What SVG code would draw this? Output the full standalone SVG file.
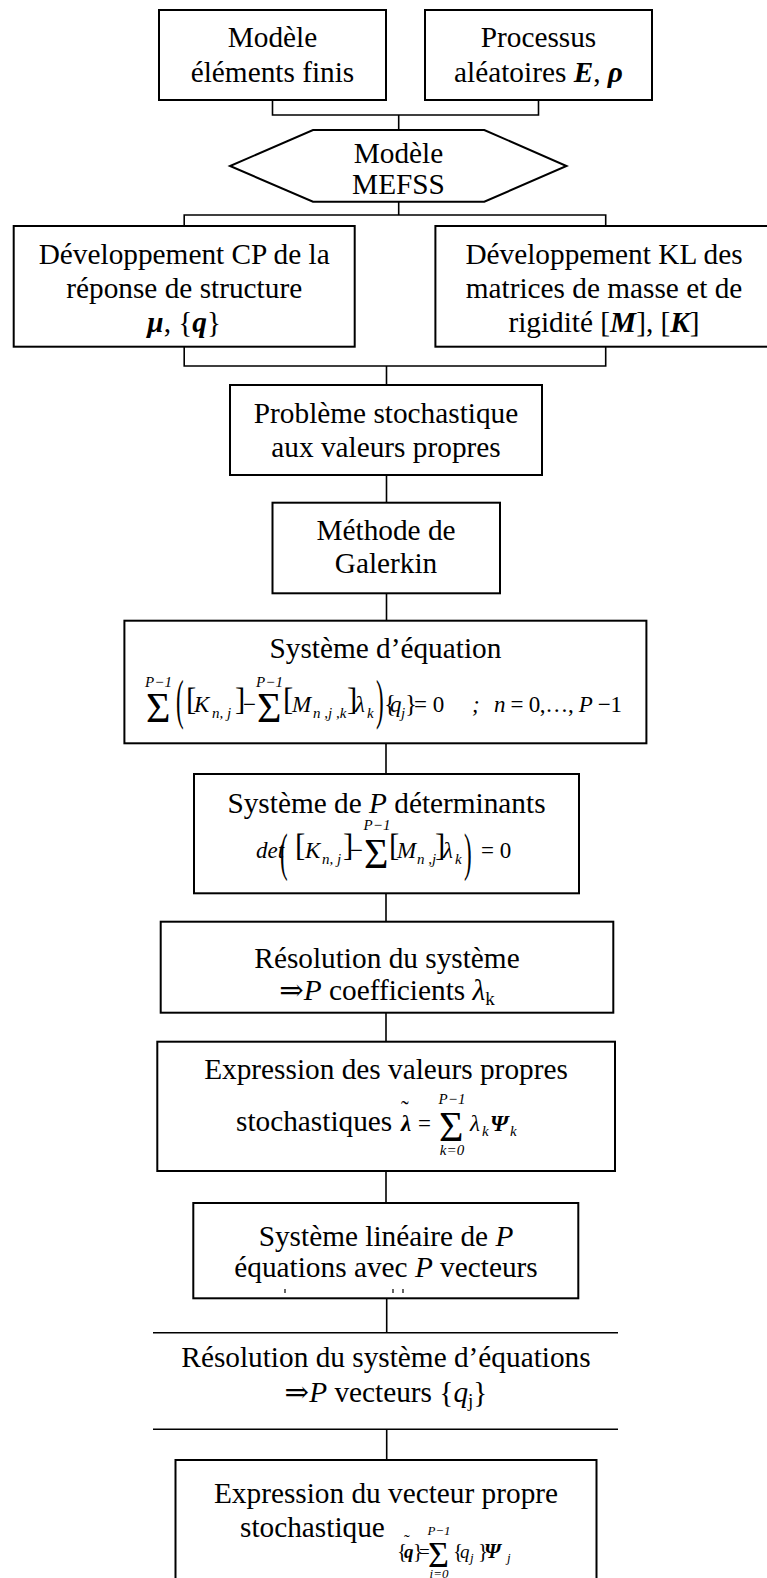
<svg xmlns="http://www.w3.org/2000/svg" width="767" height="1578" viewBox="0 0 767 1578">
<defs>
<style>
.b{fill:#fff;stroke:#000;stroke-width:2}
.c{fill:none;stroke:#000;stroke-width:1.6}
text{font-family:"Liberation Serif","Times New Roman","DejaVu Serif",serif;fill:#000}
.t{font-size:29.3px;text-anchor:middle}
.ts{font-size:29.3px}
.m{font-size:23px}
.i{font-style:italic}
.bi{font-style:italic;font-weight:bold}
.s{font-size:15px;font-style:italic}
.sg{font-size:42px}
.mid{text-anchor:middle}
.mk{stroke:#000;stroke-width:1.2}
</style>
<clipPath id="c1"><rect x="120" y="620" width="530" height="112"/></clipPath>
<clipPath id="c2"><rect x="190" y="774" width="392" height="108"/></clipPath>
</defs>
<rect width="767" height="1578" fill="#fff"/>
<g id="connectors">
<path class="c" d="M272.5 100V115H538.5V100M398.7 115V130"/>
<path class="c" d="M398.7 201.7V215M184.2 226V215H605.7V226"/>
<path class="c" d="M184.2 346.7V366H605.7V346.7M386.5 366V385"/>
<path class="c" d="M386.5 475V502.7"/>
<path class="c" d="M386.5 593.3V620.7"/>
<path class="c" d="M386 743.3V774"/>
<path class="c" d="M386 893.3V921.7"/>
<path class="c" d="M386 1012.7V1041.7"/>
<path class="c" d="M386 1171V1203"/>
<path class="c" d="M386.7 1298.3V1332.7"/>
<path class="c" d="M386.7 1429.3V1460"/>
</g>
<g id="n1">
<rect class="b" x="159" y="10" width="227" height="90"/>
<text class="t" x="272.5" y="46.5">Modèle</text>
<text class="t" x="272.5" y="81.5">éléments finis</text>
</g>
<g id="n2">
<rect class="b" x="425" y="10" width="227" height="90"/>
<text class="t" x="538.5" y="46.5">Processus</text>
<text class="t" x="538.5" y="81.5">aléatoires <tspan class="bi">E</tspan>, <tspan class="bi">ρ</tspan></text>
</g>
<g id="n3">
<polygon class="b" points="313,130 484.3,130 566.5,166 484.3,201.7 313,201.7 230,166"/>
<text class="t" x="398.5" y="163">Modèle</text>
<text class="t" x="398.5" y="194">MEFSS</text>
</g>
<g id="n4">
<rect class="b" x="13.7" y="226" width="341" height="120.7"/>
<text class="t" x="184.2" y="264">Développement CP de la</text>
<text class="t" x="184.2" y="298">réponse de structure</text>
<text class="t" x="184.2" y="332"><tspan class="bi">μ</tspan>, {<tspan class="bi">q</tspan>}</text>
</g>
<g id="n5">
<rect class="b" x="435.4" y="226" width="345" height="120.7"/>
<text class="t" x="604" y="264">Développement KL des</text>
<text class="t" x="604" y="298">matrices de masse et de</text>
<text class="t" x="604" y="332">rigidité [<tspan class="bi">M</tspan>], [<tspan class="bi">K</tspan>]</text>
</g>
<g id="n6">
<rect class="b" x="230" y="385" width="312" height="90"/>
<text class="t" x="386" y="423">Problème stochastique</text>
<text class="t" x="386" y="457">aux valeurs propres</text>
</g>
<g id="n7">
<rect class="b" x="272.5" y="502.7" width="227.5" height="90.6"/>
<text class="t" x="386" y="540">Méthode de</text>
<text class="t" x="386" y="573">Galerkin</text>
</g>
<g id="n8">
<rect class="b" x="124.4" y="620.7" width="522" height="122.6"/>
<text class="t" x="385.4" y="658">Système d’équation</text>
<g clip-path="url(#c1)">
<text class="sg" x="146" y="722">Σ</text>
<text class="s mid" x="158.5" y="687">P−1</text>
<text class="s mid" x="158.5" y="742">i=0</text>
<text class="m" transform="translate(176,718) scale(1,2.4)" font-size="26">(</text>
<text x="186" y="710" font-size="31">[</text>
<text class="m i" x="194" y="712">K</text>
<text class="s" x="212" y="718">n, j</text>
<text x="235" y="710" font-size="31">]</text>
<text class="m" x="243" y="712">−</text>
<text class="sg" x="257" y="722">Σ</text>
<text class="s mid" x="269.5" y="687">P−1</text>
<text class="s mid" x="269.5" y="742">k=0</text>
<text x="283" y="710" font-size="31">[</text>
<text class="m i" x="292" y="712">M</text>
<text class="s" x="313" y="718">n ,j ,k</text>
<text x="347" y="710" font-size="31">]</text>
<text class="m i" x="355" y="712">λ</text>
<text class="s" x="367" y="718">k</text>
<text class="m" transform="translate(376,718) scale(1,2.4)" font-size="26">)</text>
<text x="384" y="712" font-size="25">{</text>
<text class="m i" x="390" y="712">q</text>
<text class="s" x="401" y="718">j</text>
<text x="405" y="712" font-size="25">}</text>
<text class="m" x="414" y="712">= 0</text>
<text class="m i" x="472" y="712">;</text>
<text class="m" x="494" y="712" textLength="128" lengthAdjust="spacing"><tspan class="i">n</tspan> = 0,…, <tspan class="i">P</tspan> −1</text>
</g>
</g>
<g id="n9">
<rect class="b" x="194" y="774" width="385" height="119.3"/>
<text class="t" x="386.5" y="812.7">Système de <tspan class="i">P</tspan> déterminants</text>
<g clip-path="url(#c2)">
<text class="m i" x="256" y="858">det</text>
<text class="m" transform="translate(280,870) scale(1,2.3)" font-size="26">(</text>
<text x="295" y="856" font-size="31">[</text>
<text class="m i" x="305" y="858">K</text>
<text class="s" x="322" y="864">n, j</text>
<text x="343" y="856" font-size="31">]</text>
<text class="m" x="350" y="858">−</text>
<text class="sg" x="364" y="868">Σ</text>
<text class="s mid" x="377" y="830">P−1</text>
<text class="s mid" x="377" y="894">k=0</text>
<text x="389" y="856" font-size="31">[</text>
<text class="m i" x="397" y="858">M</text>
<text class="s" x="417" y="864">n ,j</text>
<text x="435" y="856" font-size="31">]</text>
<text class="m i" x="443" y="858">λ</text>
<text class="s" x="455" y="864">k</text>
<text class="m" transform="translate(464,870) scale(1,2.3)" font-size="26">)</text>
<text class="m" x="481" y="858">= 0</text>
</g>
</g>
<g id="n10">
<rect class="b" x="160.7" y="921.7" width="452.6" height="91"/>
<text class="t" x="387" y="968">Résolution du système</text>
<text class="t" x="387" y="1000">⇒<tspan class="i">P</tspan> coefficients <tspan class="i">λ</tspan><tspan font-size="19" dy="5">k</tspan></text>
</g>
<g id="n11">
<rect class="b" x="157.3" y="1041.7" width="457.7" height="129.3"/>
<text class="t" x="386" y="1079">Expression des valeurs propres</text>
<text class="ts" x="236" y="1131">stochastiques</text>
<text class="m bi" x="401" y="1131">λ</text>
<text class="m" x="401" y="1117">˜</text>
<text class="m" x="418" y="1131">=</text>
<text class="sg" x="439" y="1141">Σ</text>
<text class="s mid" x="452" y="1104">P−1</text>
<text class="s mid" x="452" y="1155">k=0</text>
<text class="m i" x="470" y="1131">λ</text>
<text class="s" x="482" y="1136">k</text>
<text class="m bi" x="490" y="1131">Ψ</text>
<text class="s" x="510" y="1136">k</text>
</g>
<g id="n12">
<rect class="b" x="193.3" y="1203" width="385" height="95.3"/>
<text class="t" x="386" y="1246">Système linéaire de <tspan class="i">P</tspan></text>
<text class="t" x="386" y="1277">équations avec <tspan class="i">P</tspan> vecteurs</text>
<path class="mk" d="M285 1289V1293M393 1289V1293M403 1289V1293"/>
</g>
<g id="n13">
<path class="c" d="M153 1332.7H618M153 1429.3H618" stroke-width="2"/>
<text class="t" x="386" y="1367">Résolution du système d’équations</text>
<text class="t" x="386" y="1402">⇒<tspan class="i">P</tspan> vecteurs {<tspan class="i">q</tspan><tspan font-size="19" dy="5">j</tspan><tspan dy="-5">}</tspan></text>
</g>
<g id="n14">
<rect class="b" x="175.5" y="1460" width="421" height="140"/>
<text class="t" x="386" y="1503">Expression du vecteur propre</text>
<text class="ts" x="240" y="1537">stochastique</text>
<text x="397" y="1558" font-size="21">{</text>
<text class="bi" x="404" y="1558" font-size="19">q</text>
<text x="404" y="1546" font-size="17">˜</text>
<text x="413" y="1558" font-size="21">}</text>
<text x="419" y="1558" font-size="19">=</text>
<text x="428" y="1567" font-size="36">Σ</text>
<text class="i mid" x="439" y="1535" font-size="13">P−1</text>
<text class="i mid" x="439" y="1578" font-size="13">i=0</text>
<text x="453" y="1558" font-size="21">{</text>
<text class="i" x="460" y="1558" font-size="19">q</text>
<text class="i" x="470" y="1562" font-size="13">j</text>
<text x="478" y="1558" font-size="21">}</text>
<text class="bi" x="484" y="1558" font-size="21">Ψ</text>
<text class="i" x="507" y="1562" font-size="13">j</text>
</g>
</svg>
